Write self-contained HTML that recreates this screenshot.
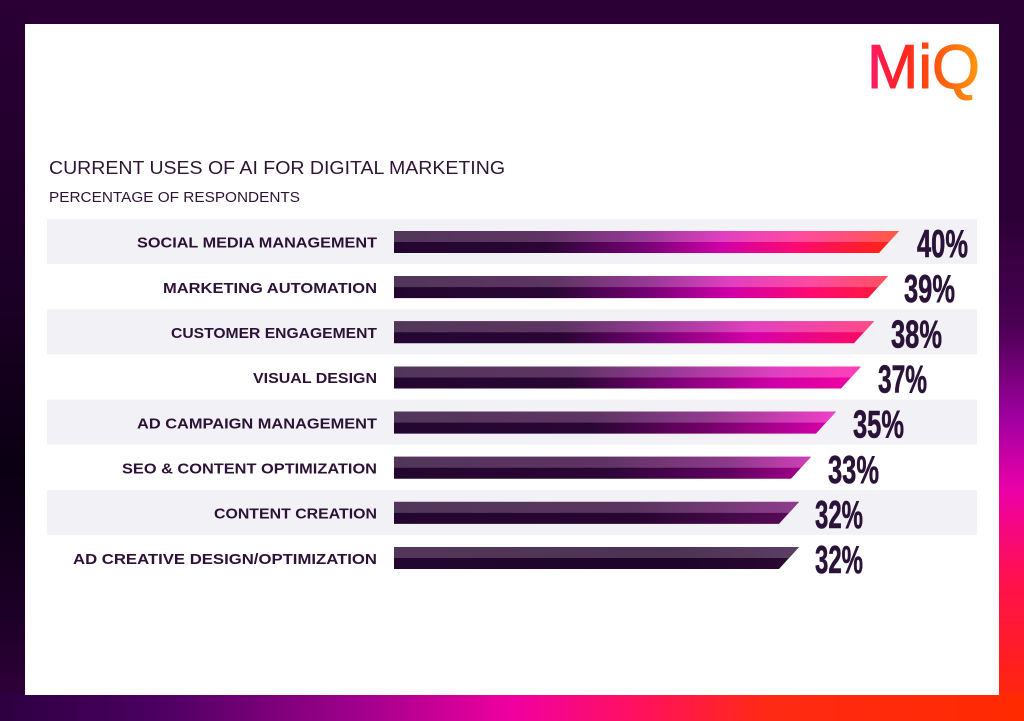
<!DOCTYPE html>
<html>
<head>
<meta charset="utf-8">
<style>
html,body{margin:0;padding:0;background:#2a0035;}
body{width:1024px;height:721px;overflow:hidden;}
svg{display:block;}
</style>
</head>
<body>
<svg width="1024" height="721" viewBox="0 0 1024 721" xmlns="http://www.w3.org/2000/svg">
<defs>
  <linearGradient id="gLeft" x1="0" y1="0" x2="0" y2="1">
    <stop offset="0" stop-color="#2a0035"/>
    <stop offset="0.4" stop-color="#1c0026"/>
    <stop offset="0.65" stop-color="#0a0012"/>
    <stop offset="0.85" stop-color="#1c0026"/>
    <stop offset="1" stop-color="#34003f"/>
  </linearGradient>
  <linearGradient id="gRight" x1="0" y1="0" x2="0" y2="1">
    <stop offset="0" stop-color="#2a0035"/>
    <stop offset="0.3" stop-color="#2c0036"/>
    <stop offset="0.45" stop-color="#4a0052"/>
    <stop offset="0.58" stop-color="#a000a0"/>
    <stop offset="0.68" stop-color="#ec00a8"/>
    <stop offset="0.8" stop-color="#ff1050"/>
    <stop offset="1" stop-color="#ff2a00"/>
  </linearGradient>
  <linearGradient id="gBottom" x1="0" y1="0" x2="1" y2="0">
    <stop offset="0" stop-color="#2c0040"/>
    <stop offset="0.15" stop-color="#4a0060"/>
    <stop offset="0.35" stop-color="#a0008c"/>
    <stop offset="0.5" stop-color="#f000a0"/>
    <stop offset="0.62" stop-color="#ff1060"/>
    <stop offset="0.75" stop-color="#ff2a14"/>
    <stop offset="1" stop-color="#ff2a00"/>
  </linearGradient>
  <linearGradient id="gLogo" x1="867" y1="0" x2="980" y2="0" gradientUnits="userSpaceOnUse">
    <stop offset="0" stop-color="#ff1a6a"/>
    <stop offset="0.3" stop-color="#ff2222"/>
    <stop offset="0.55" stop-color="#ff4a10"/>
    <stop offset="1" stop-color="#ff9a10"/>
  </linearGradient>

  <linearGradient id="b0" x1="394" x2="899" y1="0" y2="0" gradientUnits="userSpaceOnUse">
    <stop offset="0" stop-color="#230630"/><stop offset="0.3" stop-color="#2a0634"/>
    <stop offset="0.5" stop-color="#7a0078"/><stop offset="0.65" stop-color="#d000a8"/>
    <stop offset="0.8" stop-color="#ff0a70"/><stop offset="0.92" stop-color="#ff1a30"/>
    <stop offset="1" stop-color="#ff2a10"/>
  </linearGradient>
  <linearGradient id="t0" x1="394" x2="899" y1="0" y2="0" gradientUnits="userSpaceOnUse">
    <stop offset="0" stop-color="#52365a"/><stop offset="0.3" stop-color="#5e3462"/>
    <stop offset="0.5" stop-color="#9a3a98"/><stop offset="0.65" stop-color="#e040c0"/>
    <stop offset="0.8" stop-color="#ff4aa0"/><stop offset="0.92" stop-color="#ff5070"/>
    <stop offset="1" stop-color="#ff5a40"/>
  </linearGradient>
  <linearGradient id="b1" x1="394" x2="888" y1="0" y2="0" gradientUnits="userSpaceOnUse">
    <stop offset="0" stop-color="#230630"/><stop offset="0.32" stop-color="#2a0634"/>
    <stop offset="0.52" stop-color="#780076"/><stop offset="0.68" stop-color="#d000a8"/>
    <stop offset="0.85" stop-color="#ff0a70"/><stop offset="1" stop-color="#ff1a38"/>
  </linearGradient>
  <linearGradient id="t1" x1="394" x2="888" y1="0" y2="0" gradientUnits="userSpaceOnUse">
    <stop offset="0" stop-color="#52365a"/><stop offset="0.32" stop-color="#5e3462"/>
    <stop offset="0.52" stop-color="#983a96"/><stop offset="0.68" stop-color="#e040c0"/>
    <stop offset="0.85" stop-color="#ff4aa0"/><stop offset="1" stop-color="#ff5060"/>
  </linearGradient>
  <linearGradient id="b2" x1="394" x2="874" y1="0" y2="0" gradientUnits="userSpaceOnUse">
    <stop offset="0" stop-color="#230630"/><stop offset="0.35" stop-color="#2a0634"/>
    <stop offset="0.55" stop-color="#7a0078"/><stop offset="0.75" stop-color="#d800a8"/>
    <stop offset="1" stop-color="#ff0a60"/>
  </linearGradient>
  <linearGradient id="t2" x1="394" x2="874" y1="0" y2="0" gradientUnits="userSpaceOnUse">
    <stop offset="0" stop-color="#52365a"/><stop offset="0.35" stop-color="#5e3462"/>
    <stop offset="0.55" stop-color="#983a96"/><stop offset="0.75" stop-color="#e240c0"/>
    <stop offset="1" stop-color="#ff4a88"/>
  </linearGradient>
  <linearGradient id="b3" x1="394" x2="861" y1="0" y2="0" gradientUnits="userSpaceOnUse">
    <stop offset="0" stop-color="#230630"/><stop offset="0.38" stop-color="#2a0634"/>
    <stop offset="0.6" stop-color="#800078"/><stop offset="0.82" stop-color="#d000a8"/>
    <stop offset="1" stop-color="#f400a0"/>
  </linearGradient>
  <linearGradient id="t3" x1="394" x2="861" y1="0" y2="0" gradientUnits="userSpaceOnUse">
    <stop offset="0" stop-color="#52365a"/><stop offset="0.38" stop-color="#5e3462"/>
    <stop offset="0.6" stop-color="#9a3a98"/><stop offset="0.82" stop-color="#e040c0"/>
    <stop offset="1" stop-color="#ff40b8"/>
  </linearGradient>
  <linearGradient id="b4" x1="394" x2="836" y1="0" y2="0" gradientUnits="userSpaceOnUse">
    <stop offset="0" stop-color="#230630"/><stop offset="0.45" stop-color="#2a0634"/>
    <stop offset="0.7" stop-color="#720068"/><stop offset="1" stop-color="#dc00b0"/>
  </linearGradient>
  <linearGradient id="t4" x1="394" x2="836" y1="0" y2="0" gradientUnits="userSpaceOnUse">
    <stop offset="0" stop-color="#52365a"/><stop offset="0.45" stop-color="#5e3462"/>
    <stop offset="0.7" stop-color="#8e3a8c"/><stop offset="1" stop-color="#f040c8"/>
  </linearGradient>
  <linearGradient id="b5" x1="394" x2="811" y1="0" y2="0" gradientUnits="userSpaceOnUse">
    <stop offset="0" stop-color="#230630"/><stop offset="0.5" stop-color="#2a0634"/>
    <stop offset="0.8" stop-color="#600060"/><stop offset="1" stop-color="#a8008e"/>
  </linearGradient>
  <linearGradient id="t5" x1="394" x2="811" y1="0" y2="0" gradientUnits="userSpaceOnUse">
    <stop offset="0" stop-color="#52365a"/><stop offset="0.5" stop-color="#5e3462"/>
    <stop offset="0.8" stop-color="#8a3a88"/><stop offset="1" stop-color="#d040b8"/>
  </linearGradient>
  <linearGradient id="b6" x1="394" x2="799" y1="0" y2="0" gradientUnits="userSpaceOnUse">
    <stop offset="0" stop-color="#230630"/><stop offset="0.6" stop-color="#280632"/>
    <stop offset="1" stop-color="#5a0a58"/>
  </linearGradient>
  <linearGradient id="t6" x1="394" x2="799" y1="0" y2="0" gradientUnits="userSpaceOnUse">
    <stop offset="0" stop-color="#52365a"/><stop offset="0.6" stop-color="#5a3460"/>
    <stop offset="1" stop-color="#8e3e8c"/>
  </linearGradient>
  <linearGradient id="b7" x1="394" x2="799" y1="0" y2="0" gradientUnits="userSpaceOnUse">
    <stop offset="0" stop-color="#230630"/><stop offset="0.7" stop-color="#1e0428"/>
    <stop offset="1" stop-color="#2c0832"/>
  </linearGradient>
  <linearGradient id="t7" x1="394" x2="799" y1="0" y2="0" gradientUnits="userSpaceOnUse">
    <stop offset="0" stop-color="#52365a"/><stop offset="0.7" stop-color="#4c3454"/>
    <stop offset="1" stop-color="#5c3e64"/>
  </linearGradient>
</defs>

<rect x="0" y="0" width="1024" height="721" fill="#2a0035"/>
<rect x="0" y="0" width="26" height="721" fill="url(#gLeft)"/>
<rect x="998" y="0" width="26" height="721" fill="url(#gRight)"/>
<rect x="0" y="694" width="1024" height="27" fill="url(#gBottom)"/>
<rect x="25" y="24" width="974" height="671" fill="#ffffff"/>

<text x="867" y="88" font-family="Liberation Sans, sans-serif" font-size="62" fill="url(#gLogo)" stroke="url(#gLogo)" stroke-width="1.1" textLength="113" lengthAdjust="spacingAndGlyphs">MiQ</text>

<text x="49" y="174" font-family="Liberation Sans, sans-serif" font-size="18" fill="#2d1535" textLength="456" lengthAdjust="spacingAndGlyphs">CURRENT USES OF AI FOR DIGITAL MARKETING</text>
<text x="49" y="202" font-family="Liberation Sans, sans-serif" font-size="14.5" fill="#2d1535" textLength="251" lengthAdjust="spacingAndGlyphs">PERCENTAGE OF RESPONDENTS</text>

<rect x="47" y="219" width="930" height="45" fill="#f2f1f5"/>
<rect x="47" y="309.3" width="930" height="45" fill="#f2f1f5"/>
<rect x="47" y="399.6" width="930" height="45" fill="#f2f1f5"/>
<rect x="47" y="489.9" width="930" height="45" fill="#f2f1f5"/>

<g font-family="Liberation Sans, sans-serif" font-weight="bold" font-size="15" fill="#2d1237" text-anchor="start">
  <text x="137" y="247.7" textLength="240" lengthAdjust="spacingAndGlyphs">SOCIAL MEDIA MANAGEMENT</text>
  <text x="163" y="292.9" textLength="214" lengthAdjust="spacingAndGlyphs">MARKETING AUTOMATION</text>
  <text x="171" y="338.0" textLength="206" lengthAdjust="spacingAndGlyphs">CUSTOMER ENGAGEMENT</text>
  <text x="253" y="383.2" textLength="124" lengthAdjust="spacingAndGlyphs">VISUAL DESIGN</text>
  <text x="137" y="428.3" textLength="240" lengthAdjust="spacingAndGlyphs">AD CAMPAIGN MANAGEMENT</text>
  <text x="122" y="473.5" textLength="255" lengthAdjust="spacingAndGlyphs">SEO &amp; CONTENT OPTIMIZATION</text>
  <text x="214" y="518.6" textLength="163" lengthAdjust="spacingAndGlyphs">CONTENT CREATION</text>
  <text x="73" y="563.8" textLength="304" lengthAdjust="spacingAndGlyphs">AD CREATIVE DESIGN/OPTIMIZATION</text>
</g>

<polygon points="394,231 899,231 879,253 394,253" fill="url(#b0)"/>
<polygon points="394,231 899,231 889,242 394,242" fill="url(#t0)"/>
<polygon points="394,276.15 888,276.15 868,298.15 394,298.15" fill="url(#b1)"/>
<polygon points="394,276.15 888,276.15 878,287.15 394,287.15" fill="url(#t1)"/>
<polygon points="394,321.3 874,321.3 854,343.3 394,343.3" fill="url(#b2)"/>
<polygon points="394,321.3 874,321.3 864,332.3 394,332.3" fill="url(#t2)"/>
<polygon points="394,366.45 861,366.45 841,388.45 394,388.45" fill="url(#b3)"/>
<polygon points="394,366.45 861,366.45 851,377.45 394,377.45" fill="url(#t3)"/>
<polygon points="394,411.6 836,411.6 816,433.6 394,433.6" fill="url(#b4)"/>
<polygon points="394,411.6 836,411.6 826,422.6 394,422.6" fill="url(#t4)"/>
<polygon points="394,456.75 811,456.75 791,478.75 394,478.75" fill="url(#b5)"/>
<polygon points="394,456.75 811,456.75 801,467.75 394,467.75" fill="url(#t5)"/>
<polygon points="394,501.9 799,501.9 779,523.9 394,523.9" fill="url(#b6)"/>
<polygon points="394,501.9 799,501.9 789,512.9 394,512.9" fill="url(#t6)"/>
<polygon points="394,547.05 799,547.05 779,569.05 394,569.05" fill="url(#b7)"/>
<polygon points="394,547.05 799,547.05 789,558.05 394,558.05" fill="url(#t7)"/>

<g font-family="Liberation Sans Narrow, Liberation Sans, sans-serif" font-weight="bold" font-size="39" fill="#2a1238" stroke="#2a1238" stroke-width="0.6">
  <text x="917" y="257" textLength="51" lengthAdjust="spacingAndGlyphs">40%</text>
  <text x="904" y="302.2" textLength="51" lengthAdjust="spacingAndGlyphs">39%</text>
  <text x="891" y="347.3" textLength="51" lengthAdjust="spacingAndGlyphs">38%</text>
  <text x="878" y="392.5" textLength="49" lengthAdjust="spacingAndGlyphs">37%</text>
  <text x="853" y="437.6" textLength="51" lengthAdjust="spacingAndGlyphs">35%</text>
  <text x="828" y="482.8" textLength="51" lengthAdjust="spacingAndGlyphs">33%</text>
  <text x="815" y="527.9" textLength="48" lengthAdjust="spacingAndGlyphs">32%</text>
  <text x="815" y="573.1" textLength="48" lengthAdjust="spacingAndGlyphs">32%</text>
</g>
</svg>
</body>
</html>
